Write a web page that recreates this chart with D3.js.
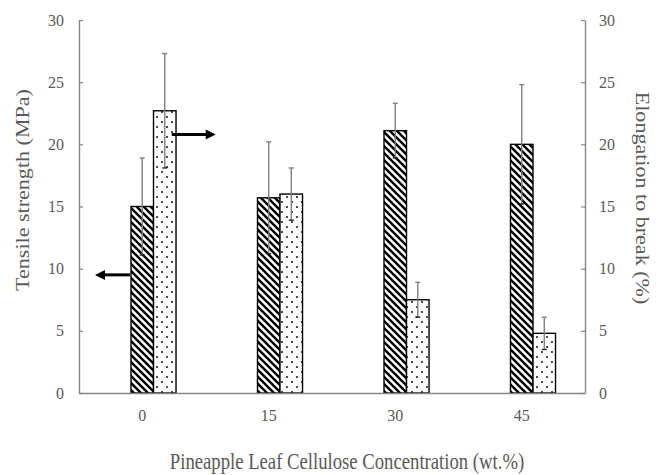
<!DOCTYPE html>
<html>
<head>
<meta charset="utf-8">
<script src="https://cdn.jsdelivr.net/npm/d3@7"></script>
<style>
  body { margin: 0; background: #fff; }
  text { font-family: "Liberation Serif", "Times New Roman", serif; }
</style>
</head>
<body>
<div id="chart"></div>
<script>
// values
var categories = ["0", "15", "30", "45"];
var tensile = [15.0, 15.7, 21.1, 20.0];
var tensileErr = [3.9, 4.5, 2.2, 4.8];
var elongation = [22.7, 16.0, 7.5, 4.8];
var elongationErr = [4.6, 2.1, 1.4, 1.3];
var yTicks = [0, 5, 10, 15, 20, 25, 30];

var width = 660, height = 475;
var plotLeft = 79, plotRight = 585, plotTop = 20, plotBottom = 393;
var grey = "#595959", axisGrey = "#868686";
var stretch = 1.18; // the source picture's text is a bit taller than wide

var svg = d3.select("#chart").append("svg")
  .attr("width", width)
  .attr("height", height);

var x = d3.scaleBand().domain(categories).range([plotLeft, plotRight]).padding(0);
var yL = d3.scaleLinear().domain([0, 30]).range([plotBottom, plotTop]);
var yR = d3.scaleLinear().domain([0, 30]).range([plotBottom, plotTop]);
var bw = x.bandwidth() * 0.178;

var defs = svg.append("defs");
var hatch = defs.append("pattern")
  .attr("id", "hatch")
  .attr("patternUnits", "userSpaceOnUse")
  .attr("width", 7).attr("height", 7);
hatch.append("rect").attr("width", 7).attr("height", 7).attr("fill", "#fff");
hatch.append("path")
  .attr("d", "M-1,-1L8,8M-1,6L1,8M6,-1L8,1")
  .attr("stroke", "#000")
  .attr("stroke-width", 2.4);

var dots = defs.append("pattern")
  .attr("id", "dots")
  .attr("patternUnits", "userSpaceOnUse")
  .attr("width", 10).attr("height", 10);
dots.append("rect").attr("width", 10).attr("height", 10).attr("fill", "#fff");
[[2, 2], [7, 7]].forEach(function(p) {
  dots.append("circle").attr("cx", p[0]).attr("cy", p[1]).attr("r", 0.95).attr("fill", "#000");
});

// axes
function styleAxis(g) {
  g.select(".domain").attr("stroke", axisGrey).attr("stroke-width", 1.4);
  g.selectAll(".tick line").attr("stroke", axisGrey).attr("stroke-width", 1.2);
  g.selectAll("text").attr("fill", grey).attr("font-size", 16)
    .attr("font-family", "Liberation Serif, Times New Roman, serif");
}

svg.append("g")
  .attr("transform", "translate(" + plotLeft + ",0)")
  .call(d3.axisLeft(yL).tickValues(yTicks).tickSizeInner(-4).tickSizeOuter(0).tickPadding(15))
  .call(styleAxis);

svg.append("g")
  .attr("transform", "translate(" + plotRight + ",0)")
  .call(d3.axisRight(yR).tickValues(yTicks).tickSizeInner(-4).tickSizeOuter(0).tickPadding(14))
  .call(styleAxis);

// bars
var bars = svg.append("g");
bars.selectAll(".ts")
  .data(tensile)
  .enter().append("rect")
  .attr("class", "ts")
  .attr("x", function(d, i) { return x(categories[i]) + x.bandwidth() / 2 - bw / 2; })
  .attr("y", function(d) { return yL(d); })
  .attr("width", bw)
  .attr("height", function(d) { return yL(0) - yL(d); })
  .attr("fill", "url(#hatch)")
  .attr("stroke", "#000")
  .attr("stroke-width", 1.4);

bars.selectAll(".el")
  .data(elongation)
  .enter().append("rect")
  .attr("class", "el")
  .attr("x", function(d, i) { return x(categories[i]) + x.bandwidth() / 2 + bw / 2; })
  .attr("y", function(d) { return yR(d); })
  .attr("width", bw)
  .attr("height", function(d) { return yR(0) - yR(d); })
  .attr("fill", "url(#dots)")
  .attr("stroke", "#000")
  .attr("stroke-width", 1.4);

// bottom axis drawn after bars so its line sits on top
svg.append("g")
  .attr("transform", "translate(0," + plotBottom + ")")
  .call(d3.axisBottom(x).tickSize(0).tickPadding(17))
  .call(styleAxis);

// error bars
function errorBars(vals, errs, scale, offset) {
  var g = svg.append("g");
  vals.forEach(function(v, i) {
    var cx = x(categories[i]) + x.bandwidth() / 2 + offset;
    var hi = scale(v + errs[i]), lo = scale(v - errs[i]);
    g.append("line").attr("x1", cx).attr("x2", cx).attr("y1", hi).attr("y2", lo)
      .attr("stroke", "#808080").attr("stroke-width", 1.4);
    g.append("line").attr("x1", cx - 2.5).attr("x2", cx + 2.5).attr("y1", hi).attr("y2", hi)
      .attr("stroke", "#808080").attr("stroke-width", 1.4);
    g.append("line").attr("x1", cx - 2.5).attr("x2", cx + 2.5).attr("y1", lo).attr("y2", lo)
      .attr("stroke", "#222").attr("stroke-width", 1.4);
  });
}
errorBars(tensile, tensileErr, yL, 0);
errorBars(elongation, elongationErr, yR, bw);

// arrows pointing to each axis
function arrow(x1, x2, y) {
  var dir = x2 > x1 ? 1 : -1;
  var g = svg.append("g");
  g.append("line").attr("x1", x1).attr("x2", x2 - dir * 8).attr("y1", y).attr("y2", y)
    .attr("stroke", "#000").attr("stroke-width", 3);
  g.append("path")
    .attr("d", "M" + x2 + "," + y + "L" + (x2 - dir * 10) + "," + (y - 5) + "L" + (x2 - dir * 10) + "," + (y + 5) + "Z")
    .attr("fill", "#000");
}
var c0 = x(categories[0]) + x.bandwidth() / 2;
arrow(c0 - bw / 2 - 1, c0 - bw / 2 - 36, yL(9.5));
arrow(c0 + bw + 7, c0 + bw + 51, yR(20.8));

// axis titles
svg.append("text")
  .attr("transform", "translate(25,190) scale(1," + stretch + ") rotate(-90)")
  .attr("text-anchor", "middle")
  .attr("dominant-baseline", "middle")
  .attr("font-size", 18.7)
  .attr("fill", grey)
  .text("Tensile strength (MPa)");

svg.append("text")
  .attr("transform", "translate(640,198) scale(1," + stretch + ") rotate(90)")
  .attr("text-anchor", "middle")
  .attr("dominant-baseline", "middle")
  .attr("font-size", 18.7)
  .attr("fill", grey)
  .text("Elongation to break (%)");

svg.append("text")
  .attr("transform", "translate(347,469) scale(1," + stretch + ")")
  .attr("text-anchor", "middle")
  .attr("font-size", 18.7)
  .attr("fill", grey)
  .text("Pineapple Leaf Cellulose Concentration (wt.%)");
</script>
</body>
</html>
